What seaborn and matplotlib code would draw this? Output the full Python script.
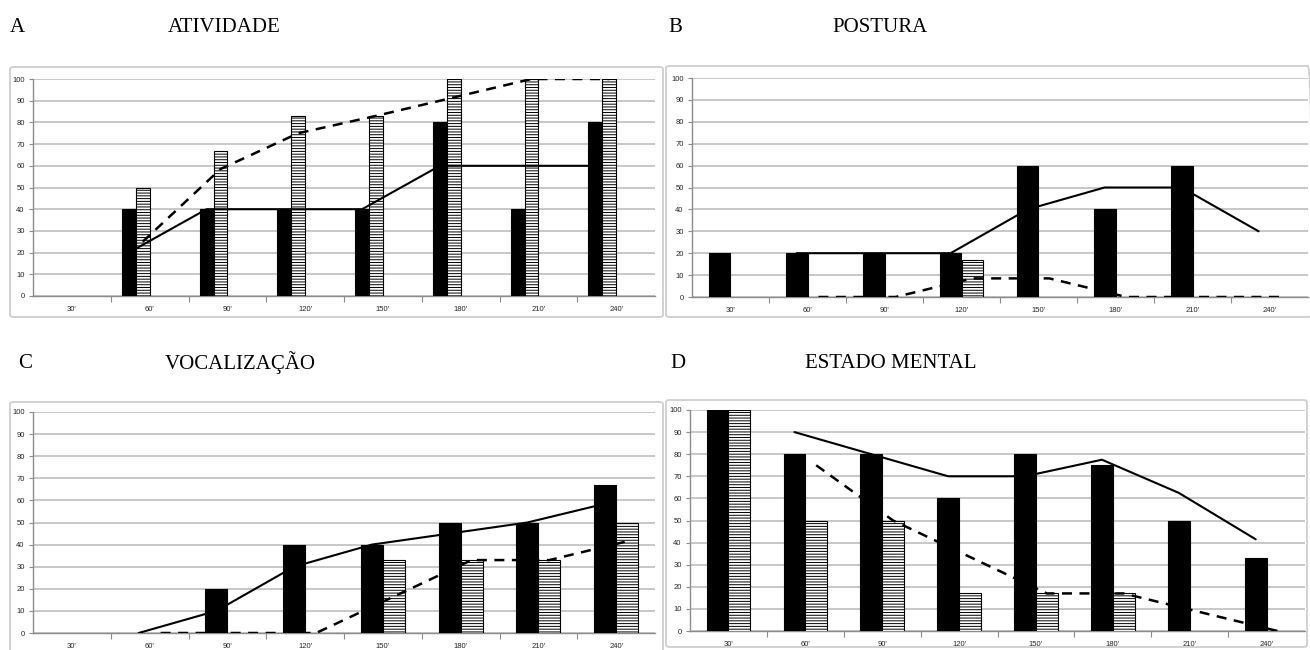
import numpy as np
import pandas as pd
import matplotlib
matplotlib.use("Agg")
import matplotlib.pyplot as plt
from matplotlib.patches import FancyBboxPatch
import seaborn as sns

# ---------------- data ----------------
times = ["30'", "60'", "90'", "120'", "150'", "180'", "210'", "240'"]
trend_times = times[1:]

titles = ["ATIVIDADE", "POSTURA", "VOCALIZAÇÃO", "ESTADO MENTAL"]
letters = ["A", "B", "C", "D"]

A_black = [0, 40, 40, 40, 40, 80, 40, 80]
A_striped = [0, 50, 67, 83, 83, 100, 100, 100]
A_black_trend = [20, 40, 40, 40, 60, 60, 60]
A_striped_trend = [25, 58.5, 75, 83, 91.5, 100, 100]

B_black = [20, 20, 20, 20, 60, 40, 60, 0]
B_striped = [0, 0, 0, 17, 0, 0, 0, 0]
B_black_trend = [20, 20, 20, 40, 50, 50, 30]
B_striped_trend = [0, 0, 8.5, 8.5, 0, 0, 0]

C_black = [0, 0, 20, 40, 40, 50, 50, 67]
C_striped = [0, 0, 0, 0, 33, 33, 33, 50]
C_black_trend = [0, 10, 30, 40, 45, 50, 58.5]
C_striped_trend = [0, 0, 0, 16.5, 33, 33, 41.5]

D_black = [100, 80, 80, 60, 80, 75, 50, 33]
D_striped = [100, 50, 50, 17, 17, 17, 0, 0]
D_black_trend = [90, 80, 70, 70, 77.5, 62.5, 41.5]
D_striped_trend = [75, 50, 33.5, 17, 17, 8.5, 0]

yticks = list(range(0, 101, 10))

# ---------------- style ----------------
sns.set_theme(style="white")
plt.rcParams["font.family"] = ["Liberation Sans", "DejaVu Sans"]
plt.rcParams["hatch.linewidth"] = 0.7
plt.rcParams["hatch.color"] = "black"

W, H = 1310, 650
fig = plt.figure(figsize=(W / 100, H / 100), dpi=100)

def fx(x):
    return x / W

def fy(y):
    return 1 - y / H

GRID = "#c4c4c4"
AXC = "#8c8c8c"

panels = [
    dict(black=A_black, striped=A_striped, bt=A_black_trend, st=A_striped_trend,
         area=(33, 79, 655, 296), box=(10, 67, 663, 317), nlev=4, width=0.713,
         letter_xy=(10, 28), title_x=168),
    dict(black=B_black, striped=B_striped, bt=B_black_trend, st=B_striped_trend,
         area=(692, 78, 1308, 297), box=(666, 66, 1312, 317), nlev=2, width=0.566,
         letter_xy=(668, 28), title_x=832),
    dict(black=C_black, striped=C_striped, bt=C_black_trend, st=C_striped_trend,
         area=(33, 412, 655, 633), box=(10, 402, 663, 652), nlev=2, width=0.566,
         letter_xy=(18, 363), title_x=165),
    dict(black=D_black, striped=D_striped, bt=D_black_trend, st=D_striped_trend,
         area=(690, 410, 1305, 631), box=(666, 400, 1307, 647), nlev=2, width=0.566,
         letter_xy=(670, 363), title_x=805),
]

for i, p in enumerate(panels):
    # outer chart box
    bx0, by0, bx1, by1 = p["box"]
    rect = FancyBboxPatch((fx(bx0), fy(by1)), fx(bx1 - bx0), (by1 - by0) / H,
                          boxstyle="round,pad=0,rounding_size=0.003",
                          transform=fig.transFigure, fill=False,
                          edgecolor="#cfcfcf", linewidth=1.3, zorder=0)
    fig.patches.append(rect)

    # titles
    lx, ly = p["letter_xy"]
    fig.text(fx(lx), fy(ly), letters[i], ha="left", va="center",
             fontsize=15, family="Liberation Serif", color="black")
    fig.text(fx(p["title_x"]), fy(ly), titles[i], ha="left", va="center",
             fontsize=15, family="Liberation Serif", color="black")

    x0, y0, x1, y1 = p["area"]
    ax = fig.add_axes([fx(x0), fy(y1), fx(x1 - x0), (y1 - y0) / H])

    levels = ["Preto", "Listrado", "s3", "s4"][: p["nlev"]]
    df = pd.DataFrame({
        "tempo": times * 2,
        "valor": list(p["black"]) + list(p["striped"]),
        "serie": ["Preto"] * len(times) + ["Listrado"] * len(times),
    })
    pal = {"Preto": "black", "Listrado": "white", "s3": "white", "s4": "white"}
    sns.barplot(data=df, x="tempo", y="valor", hue="serie", hue_order=levels,
                order=times, palette=pal, saturation=1, width=p["width"],
                edgecolor="black", linewidth=0.8, errorbar=None, legend=False,
                ax=ax, zorder=3)

    for patch in ax.patches:
        fc = patch.get_facecolor()
        if patch.get_height() == 0:
            patch.set_linewidth(0)
        if fc[0] > 0.9 and fc[1] > 0.9 and fc[2] > 0.9:
            patch.set_hatch("------")

    # trend lines at the centre of each series' bars
    bw = p["width"] / p["nlev"]
    off_black = -p["width"] / 2 + bw / 2
    off_striped = off_black + bw
    xs = np.arange(1, len(times))
    sns.lineplot(x=xs + off_black, y=p["bt"], color="black", linewidth=1.5,
                 ax=ax, zorder=5, sort=False)
    sns.lineplot(x=xs + off_striped, y=p["st"], color="black", linewidth=1.8,
                 linestyle=(0, (4, 3)), ax=ax, zorder=5, sort=False)

    ax.set_xlim(-0.5, len(times) - 0.5)
    ax.set_ylim(0, 100)
    ax.set_yticks(yticks)
    ax.set_yticklabels([str(v) for v in yticks])
    ax.set_xticks(range(len(times)))
    ax.set_xticklabels(times)
    ax.set_xticks(np.arange(0.5, len(times) - 0.5, 1), minor=True)
    ax.set_xlabel("")
    ax.set_ylabel("")
    ax.grid(axis="y", color=GRID, linewidth=1.3, zorder=0)
    ax.grid(axis="x", visible=False)
    ax.set_axisbelow(True)
    for s in ["top", "right"]:
        ax.spines[s].set_visible(False)
    for s in ["left", "bottom"]:
        ax.spines[s].set_color(AXC)
        ax.spines[s].set_linewidth(1.0)
    ax.tick_params(axis="y", which="major", length=3, width=0.8, color=AXC,
                   labelsize=5.5, pad=3, direction="out", left=True)
    ax.tick_params(axis="x", which="major", length=0, labelsize=5.5, pad=7,
                   bottom=True)
    ax.tick_params(axis="x", which="minor", length=4, width=0.8, color=AXC,
                   direction="out", bottom=True)
    ax.patch.set_alpha(0)

fig.savefig("out.png", dpi=100, facecolor="white")
